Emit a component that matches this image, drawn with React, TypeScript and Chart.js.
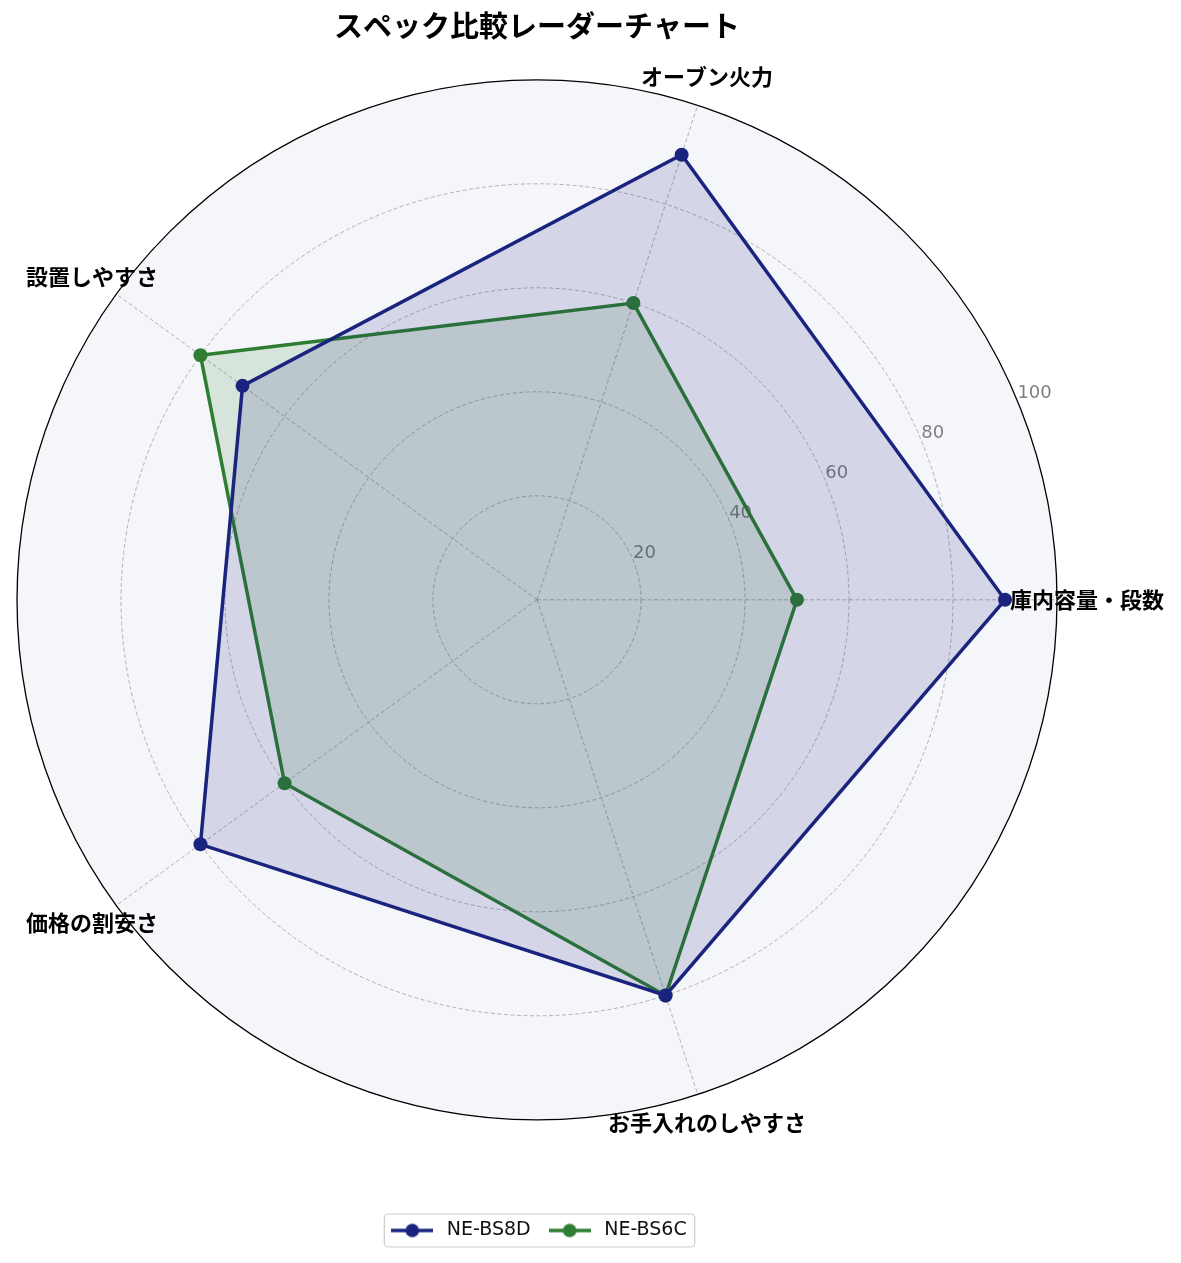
import React, { useEffect, useRef } from "react";
import { Chart, registerables } from "chart.js";

Chart.register(...registerables);

// Categories in the reference's counter‑clockwise order, starting at the right
const CATEGORIES = ["庫内容量・段数", "オーブン火力", "設置しやすさ", "価格の割安さ", "お手入れのしやすさ"];
const SERIES_NAMES = ["NE-BS8D", "NE-BS6C"];
const BS8D_VALUES = [90, 90, 70, 80, 80];
const BS6C_VALUES = [50, 60, 80, 60, 80];
const TICK_VALUES = [20, 40, 60, 80, 100];
const SERIES_COLORS = ["#1a237e", "#2e7d32"];
const SERIES_FILLS = ["rgba(26,35,126,0.15)", "rgba(46,125,50,0.15)"];

// Chart.js goes clockwise; the reference goes counter-clockwise -> reorder
const ORDER = [0, 4, 3, 2, 1];
const reorder = <T,>(arr: T[]) => ORDER.map((i) => arr[i]);

const FONT = "'Noto Sans CJK JP', 'Noto Sans', sans-serif";
const LATIN = "'DejaVu Sans', sans-serif";

function makeSymbol(color: string): HTMLCanvasElement {
  const c = document.createElement("canvas");
  c.width = 42;
  c.height = 16;
  const g = c.getContext("2d")!;
  g.strokeStyle = color;
  g.lineWidth = 3.5;
  g.beginPath();
  g.moveTo(0, 8);
  g.lineTo(42, 8);
  g.stroke();
  g.fillStyle = color;
  g.beginPath();
  g.arc(21, 8, 6.8, 0, Math.PI * 2);
  g.fill();
  return c;
}

const radarDecor = {
  id: "radarDecor",
  beforeDraw(chart: any) {
    const ctx = chart.ctx;
    const s = chart.scales.r;
    ctx.save();
    ctx.fillStyle = "#f5f6fa";
    ctx.beginPath();
    ctx.arc(s.xCenter, s.yCenter, s.drawingArea, 0, Math.PI * 2);
    ctx.fill();
    // legend frame
    const boxes = chart.legend && chart.legend.legendHitBoxes;
    if (boxes && boxes.length) {
      let l = Infinity, t = Infinity, r = -Infinity, b = -Infinity;
      boxes.forEach((h: any) => {
        l = Math.min(l, h.left);
        t = Math.min(t, h.top);
        r = Math.max(r, h.left + h.width);
        b = Math.max(b, h.top + h.height);
      });
      const x0 = l - 3, y0 = t - 7, x1 = r + 8, y1 = b + 7;
      ctx.fillStyle = "rgba(255,255,255,0.8)";
      ctx.strokeStyle = "#cccccc";
      ctx.lineWidth = 1.2;
      ctx.beginPath();
      (ctx as any).roundRect(x0, y0, x1 - x0, y1 - y0, 4);
      ctx.fill();
      ctx.stroke();
    }
    ctx.restore();
  },
  beforeDatasetsDraw(chart: any) {
    const ctx = chart.ctx;
    const s = chart.scales.r;
    ctx.save();
    // outer solid circle
    ctx.strokeStyle = "#000";
    ctx.lineWidth = 1.3;
    ctx.beginPath();
    ctx.arc(s.xCenter, s.yCenter, s.getDistanceFromCenterForValue(100), 0, Math.PI * 2);
    ctx.stroke();
    // radial tick labels at 22.5°
    const a = (22.5 * Math.PI) / 180;
    ctx.fillStyle = "#808080";
    ctx.font = `18px ${LATIN}`;
    ctx.textAlign = "left";
    ctx.textBaseline = "bottom";
    TICK_VALUES.forEach((v) => {
      const d = s.getDistanceFromCenterForValue(v);
      ctx.fillText(String(v), s.xCenter + d * Math.cos(a), s.yCenter - d * Math.sin(a) + 2);
    });
    ctx.restore();
  },
  afterDatasetsDraw(chart: any) {
    const ctx = chart.ctx;
    const s = chart.scales.r;
    ctx.save();
    ctx.fillStyle = "#000";
    ctx.font = `bold 22px ${FONT}`;
    ctx.textAlign = "center";
    ctx.textBaseline = "middle";
    chart.data.labels.forEach((lab: string, i: number) => {
      const p = s.getPointPosition(i, s.drawingArea + 30);
      ctx.fillText(lab, p.x, p.y);
    });
    ctx.restore();
  },
};

export default function App() {
  const ref = useRef<HTMLCanvasElement | null>(null);

  useEffect(() => {
    if (!ref.current) return;
    Chart.defaults.font.family = FONT;
    const symbols = SERIES_COLORS.map(makeSymbol);
    const chart = new Chart(ref.current, {
      type: "radar",
      data: {
        labels: reorder(CATEGORIES),
        datasets: [
          {
            label: SERIES_NAMES[0],
            data: reorder(BS8D_VALUES),
            borderColor: SERIES_COLORS[0],
            backgroundColor: SERIES_FILLS[0],
            pointBackgroundColor: SERIES_COLORS[0],
            pointBorderColor: SERIES_COLORS[0],
            borderWidth: 3.5,
            pointRadius: 7,
            pointBorderWidth: 0,
            fill: true,
          },
          {
            label: SERIES_NAMES[1],
            data: reorder(BS6C_VALUES),
            borderColor: SERIES_COLORS[1],
            backgroundColor: SERIES_FILLS[1],
            pointBackgroundColor: SERIES_COLORS[1],
            pointBorderColor: SERIES_COLORS[1],
            borderWidth: 3.5,
            pointRadius: 7,
            pointBorderWidth: 0,
            fill: true,
          },
        ],
      },
      options: {
        animation: false,
        responsive: true,
        maintainAspectRatio: false,
        layout: { padding: { left: 17, right: 124, top: 0, bottom: 13 } },
        scales: {
          r: {
            min: 0,
            max: 100,
            startAngle: 90,
            ticks: { display: false, stepSize: 20 },
            grid: {
              circular: true,
              color: (c: any) => (c.index === 5 ? "rgba(0,0,0,0)" : "rgba(150,150,150,0.8)"),
              lineWidth: 0.9,
            },
            border: { dash: [4, 2.5] },
            angleLines: { display: true, color: "rgba(150,150,150,0.8)", lineWidth: 0.9, borderDash: [4, 2.5] },
            pointLabels: { display: false },
            afterFit: (s: any) => {
              s.yCenter = s.top + s.drawingArea;
            },
          } as any,
        },
        plugins: {
          title: {
            display: true,
            text: "スペック比較レーダーチャート",
            fullSize: false,
            color: "#000",
            font: { size: 29, weight: "bold", family: FONT },
            padding: { top: 9, bottom: 36 },
          },
          legend: {
            position: "bottom",
            fullSize: false,
            labels: {
              usePointStyle: true,
              pointStyleWidth: 50,
              padding: 14,
              color: "#111",
              font: { size: 19, family: LATIN },
              generateLabels: (ch: any) =>
                ch.data.datasets.map((ds: any, i: number) => ({
                  text: ds.label,
                  pointStyle: symbols[i],
                  fillStyle: ds.borderColor,
                  strokeStyle: ds.borderColor,
                  lineWidth: 0,
                  hidden: false,
                  datasetIndex: i,
                  fontColor: "#111",
                })),
            },
          },
          tooltip: { enabled: false },
        },
      },
      plugins: [radarDecor],
    });
    return () => chart.destroy();
  }, []);

  return (
    <div style={{ position: "absolute", left: 0, top: 0, width: 1181, height: 1263 }}>
      <canvas ref={ref} />
    </div>
  );
}
